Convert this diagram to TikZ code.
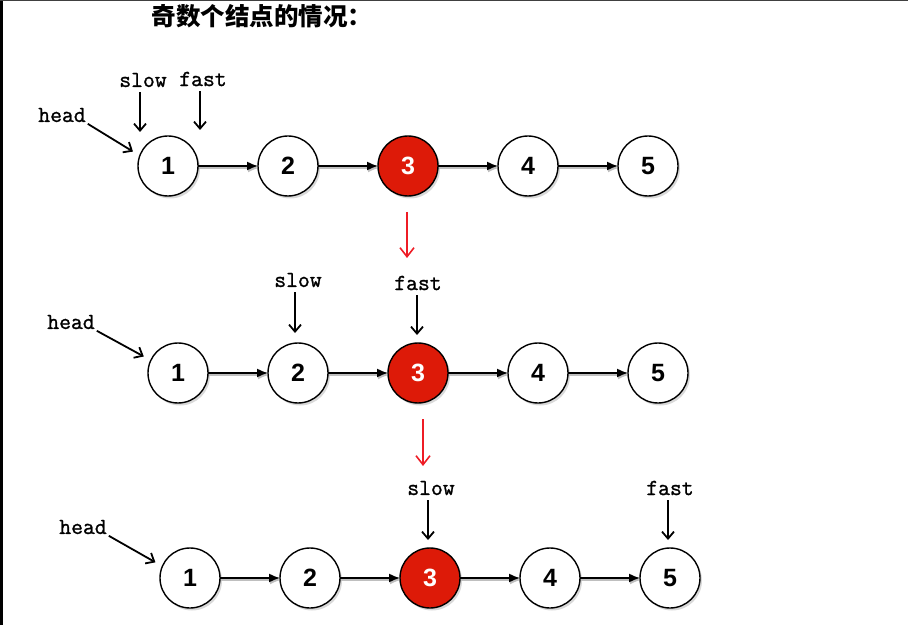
\documentclass[tikz,border=0pt]{standalone}
\usepackage{fontspec}
\setmainfont{Liberation Sans}
\newfontfamily\ptrfont{Latin Modern Mono}[FakeBold=1.2]
\newfontfamily\cjk{Noto Sans CJK SC}
\usetikzlibrary{positioning,shadows,arrows.meta}
\definecolor{nodered}{HTML}{DD1A08}
\definecolor{movered}{HTML}{EE1C25}
\tikzset{
  listnode/.style={draw, circle, line width=1.4pt, minimum size=60pt, inner sep=0pt, outer sep=0pt, fill=white,
    font=\fontsize{25}{25}\selectfont\bfseries,
    drop shadow={shadow xshift=2pt, shadow yshift=-2.5pt, opacity=0.3}},
  midnode/.style={listnode, fill=nodered, text=white},
  ptrlabel/.style={font=\fontsize{23}{23}\selectfont\ptrfont, inner sep=1pt},
  ptr/.style={-{Straight Barb[length=7pt,width=12pt]}, line width=1.8pt},
  nxt/.style={-{Latex[length=11pt,width=9pt]}, line width=1.5pt,
    preaction={draw, black!25, line width=2pt, transform canvas={xshift=1pt,yshift=-2pt}}},
  movedown/.style={-{Straight Barb[length=9pt,width=14pt]}, line width=1.6pt, movered}
}
\begin{document}
\begin{tikzpicture}[x=1pt,y=1pt]
  \useasboundingbox (0,0) rectangle (908,625);
  \draw[line width=3pt] (1.5,0) -- (1.5,625);
  \draw[line width=1.5pt, black!75] (0,624.25) -- (908,624.25);
  \node (title) at (262,609) {\cjk\fontsize{24.5}{24.5}\selectfont\bfseries 奇数个结点的情况：};

  % slow and fast both start at 1
  \node (a1) [listnode] at (168,459) {1};
  \node (a2) [listnode, right=60pt of a1] {2};
  \node (a3) [midnode, right=60pt of a2] {3};
  \node (a4) [listnode, right=60pt of a3] {4};
  \node (a5) [listnode, right=60pt of a4] {5};
  \draw [nxt](a1)--(a2);
  \draw [nxt](a2)--(a3);
  \draw [nxt](a3)--(a4);
  \draw [nxt](a4)--(a5);
  \node (h1) [ptrlabel] at (62,510) {head};
  \node (s1) [ptrlabel] at (143,545) {slow};
  \node (f1) [ptrlabel] at (203,546) {fast};
  \draw [ptr, shorten <=1pt, shorten >=8pt](h1.south east)--(a1.160);
  \draw [ptr, shorten <=4pt, shorten >=4pt]([xshift=-3pt]s1.south)--([xshift=-3pt]s1.south |- a1.north);
  \draw [ptr, shorten <=4pt, shorten >=6pt]([xshift=-3pt]f1.south)--([xshift=-3pt]f1.south |- a1.north);
  \draw [movedown]([xshift=-1pt, yshift=-16pt]a3.south)--++(0,-46pt);

  % after one step
  \node (b1) [listnode] at (178,252) {1};
  \node (b2) [listnode, right=60pt of b1] {2};
  \node (b3) [midnode, right=60pt of b2] {3};
  \node (b4) [listnode, right=60pt of b3] {4};
  \node (b5) [listnode, right=60pt of b4] {5};
  \draw [nxt](b1)--(b2);
  \draw [nxt](b2)--(b3);
  \draw [nxt](b3)--(b4);
  \draw [nxt](b4)--(b5);
  \node (h2) [ptrlabel] at (71,303) {head};
  \node (s2) [ptrlabel] at (298,345) {slow};
  \node (f2) [ptrlabel] at (418,342) {fast};
  \draw [ptr, shorten <=1pt, shorten >=8pt](h2.south east)--(b1.155);
  \draw [ptr, shorten <=4pt, shorten >=10pt]([xshift=-3pt]s2.south)--([xshift=-3pt]s2.south |- b2.north);
  \draw [ptr, shorten <=4pt, shorten >=8pt]([xshift=-1pt]f2.south)--([xshift=-1pt]f2.south |- b3.north);
  \draw [movedown]([xshift=5pt, yshift=-16pt]b3.south)--++(0,-47pt);

  % slow at the middle, fast at the end
  \node (c1) [listnode] at (190,47) {1};
  \node (c2) [listnode, right=60pt of c1] {2};
  \node (c3) [midnode, right=60pt of c2] {3};
  \node (c4) [listnode, right=60pt of c3] {4};
  \node (c5) [listnode, right=60pt of c4] {5};
  \draw [nxt](c1)--(c2);
  \draw [nxt](c2)--(c3);
  \draw [nxt](c3)--(c4);
  \draw [nxt](c4)--(c5);
  \node (h3) [ptrlabel] at (83,98) {head};
  \node (s3) [ptrlabel] at (431,137) {slow};
  \node (f3) [ptrlabel] at (670,137) {fast};
  \draw [ptr, shorten <=1pt, shorten >=8pt](h3.south east)--(c1.157);
  \draw [ptr, shorten <=4pt, shorten >=8pt]([xshift=-3pt]s3.south)--([xshift=-3pt]s3.south |- c3.north);
  \draw [ptr, shorten <=4pt, shorten >=8pt]([xshift=-2pt]f3.south)--([xshift=-2pt]f3.south |- c5.north);
\end{tikzpicture}
\end{document}
